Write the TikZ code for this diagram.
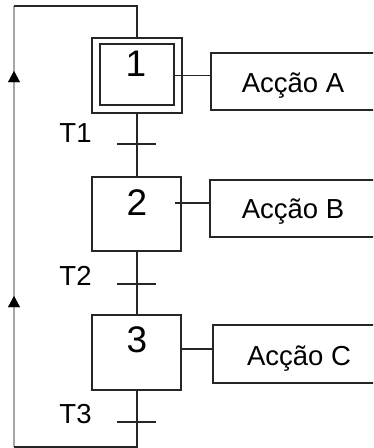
\documentclass[tikz,border=0pt]{standalone}
\usepackage{fontspec}
\setmainfont{Liberation Sans}
\usetikzlibrary{arrows.meta,decorations.markings}
\begin{document}
\begin{tikzpicture}[x=1pt,y=-1pt,
  ln/.style={line width=1.5pt,black!85},
  graylink/.style={line width=2.2pt,black!35},
  stepbox/.style={draw,line width=1.5pt,black!85,minimum width=89pt,minimum height=74pt,inner sep=0pt},
  innerbox/.style={draw,line width=1.5pt,black!85,minimum width=74pt,minimum height=61pt,inner sep=0pt},
  actbox/.style={draw,line width=1.5pt,black!85,minimum height=57pt,inner sep=0pt},
  num/.style={anchor=base,inner sep=0pt,font=\fontsize{37}{40}\selectfont},
  tlabel/.style={anchor=base,inner sep=0pt,font=\fontsize{27.5}{30}\selectfont},
  uparrow/.style={postaction={decorate},decoration={markings,
     mark=at position #1 with {\arrow[black]{Triangle[width=11pt,length=11pt]}}}}
]
\useasboundingbox (0,0) rectangle (373,448);
\clip (0,0) rectangle (373,448);

% steps
\node[stepbox,minimum width=90pt,minimum height=75pt] (s1o) at (137,75.5) {};
\node[innerbox] (s1) at (137,74.5) {};
\node[stepbox] (s2) at (136.5,214) {};
\node[stepbox,minimum height=75pt] (s3) at (136.5,352.5) {};

\node[num] (n1) at (136,76) {1};
\node[num] (n2) at (137,215) {2};
\node[num] (n3) at (137,352) {3};

% actions
\node[actbox,minimum width=164pt] (a) at (293,81.5) {};
\node[tlabel] (at) at (293,92) {Acção A};
\node[actbox,minimum width=166pt] (b) at (293,208.5) {};
\node[tlabel] (bt) at (293,218) {Acção B};
\node[actbox,minimum width=172pt,minimum height=58pt] (c) at (299,354) {};
\node[tlabel] (ct) at (299,365) {Acção C};

\coordinate (l1) at (174,75.5);
\coordinate (l2) at (175,203);
\coordinate (l3) at (181,349);
\draw[ln] (l1) -- (l1 -| a.west);
\draw[ln] (l2) -- (l2 -| b.west);
\draw[ln] (l3) -- (l3 -| c.west);

% transitions
\coordinate (t1) at (137,144);
\coordinate (t2) at (137,284);
\coordinate (t3) at (137,422);
\node[tlabel] (T1) at (75.5,142) {T1};
\node[tlabel] (T2) at (75.5,285) {T2};
\node[tlabel] (T3) at (75.5,423) {T3};

\draw[ln] (s1o.south -| t1) -- (s2.north -| t1);
\draw[ln] (s2.south -| t2) -- (s3.north -| t2);
\draw[ln] ([xshift=-20pt]t1) -- ([xshift=19pt]t1);
\draw[ln] ([xshift=-20pt]t2) -- ([xshift=19pt]t2);
\draw[ln] ([xshift=-20pt]t3) -- ([xshift=19pt]t3);

% loop back
\coordinate (br) at (137,447);
\coordinate (bl) at (14,447);
\coordinate (tl) at (14,6);
\coordinate (tr) at (137,6);
\draw[graylink,uparrow=151pt,uparrow=376pt] (bl) -- (tl);
\draw[ln] (s3.south -| t3) -- (br) -- (bl);
\draw[ln] (tl) -- (tr) -- (s1o.north -| tr);
\end{tikzpicture}
\end{document}
